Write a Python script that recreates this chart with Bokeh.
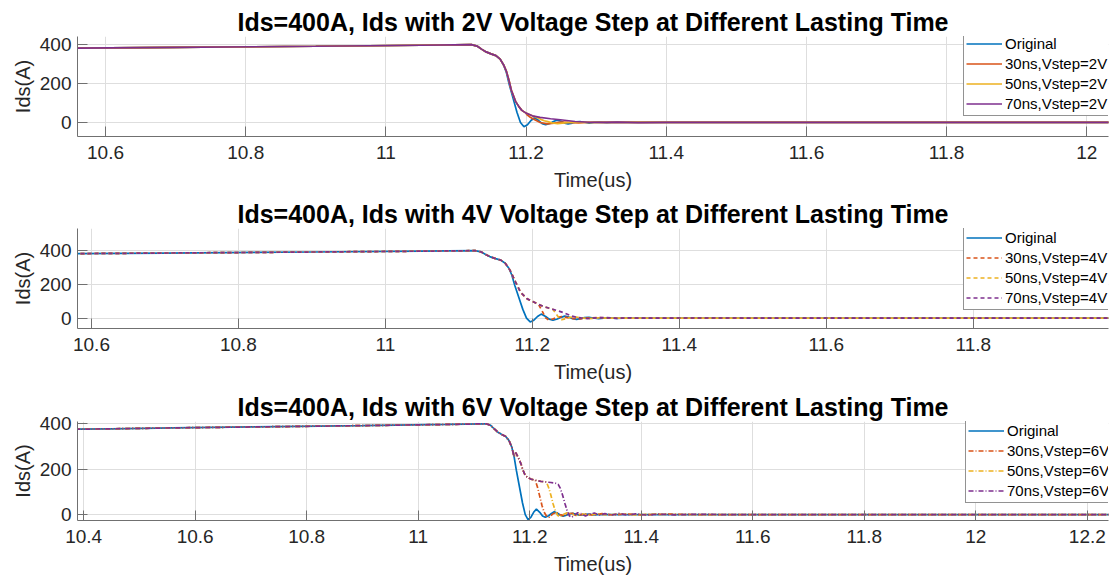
from bokeh.plotting import figure
from bokeh.layouts import column
from bokeh.models import (Legend, LegendItem, FixedTicker, CustomJSTickFormatter,
                          Range1d)
from bokeh.embed import file_html
from bokeh.resources import INLINE

# ---------------- data ----------------
# Original Ids waveform (shared by all three panels)
t_orig = [10.385, 10.45, 10.56, 10.7, 10.9, 11.05, 11.122, 11.13, 11.137, 11.143,
          11.15, 11.157, 11.163, 11.168, 11.172, 11.176, 11.181, 11.187, 11.192,
          11.197, 11.202, 11.207, 11.212, 11.218, 11.223, 11.228, 11.234, 11.239,
          11.244, 11.25, 11.255, 11.26, 11.266, 11.271, 11.277, 11.283, 11.29,
          11.297, 11.305, 11.315, 11.33, 11.35, 12.3]
ids_orig = [375, 377, 381, 385, 391, 396, 399, 392, 375, 362,
            352, 343, 325, 295, 255, 195, 130, 52, 0,
            -22, -12, 10, 24, 10, -6, -12, -5, 5,
            12, 6, -3, -7, -3, 3, 5, 1, -3,
            0, 2, -1, 1, 0, 0]

# 2V step: 70ns path (30ns / 50ns leave it earlier)
t_2v_70 = [11.172, 11.176, 11.179, 11.185, 11.19, 11.194, 11.2, 11.209, 11.22,
           11.235, 11.249, 11.27, 11.29, 11.31, 11.33, 11.36, 11.4, 12.3]
ids_2v_70 = [262, 210, 165, 108, 80, 62, 48, 34, 26,
             19, 14, 5, 1, 0, 2, -1, 0, 0]
t_2v_30 = [11.201, 11.206, 11.211, 11.216, 11.22, 11.23, 11.24, 11.25, 11.26,
           11.275, 11.29, 11.31, 12.3]
ids_2v_30 = [40, 27, 17, 7, 0, -7, -3, 2, 0, -2, 1, 0, 0]
t_2v_50 = [11.212, 11.216, 11.221, 11.226, 11.231, 11.237, 11.245, 11.255,
           11.265, 11.28, 11.3, 12.3]
ids_2v_50 = [30, 24, 16, 9, 4, -2, -6, -2, 2, 0, 1, 0]

# 4V step
t_4v_70 = [11.17, 11.177, 11.184, 11.193, 11.2, 11.208, 11.216, 11.225, 11.234,
           11.243, 11.252, 11.259, 11.266, 11.275, 11.285, 11.3, 11.315, 11.33,
           11.35, 11.4, 12.3]
ids_4v_70 = [280, 215, 153, 114, 100, 82, 68, 56, 45,
             32, 15, 6, 2, -3, 2, 4, -1, 2,
             0, 1, 0]
t_4v_30 = [11.209, 11.213, 11.218, 11.222, 11.227, 11.233, 11.24, 11.248,
           11.256, 11.265, 11.275, 11.29, 11.31, 12.3]
ids_4v_30 = [76, 45, 2, -10, -6, 4, 9, 3, -3, -4, 2, 3, 0, 0]
t_4v_50 = [11.228, 11.232, 11.236, 11.24, 11.245, 11.251, 11.258, 11.266,
           11.275, 11.29, 11.31, 12.3]
ids_4v_50 = [52, 28, 3, -9, -4, 5, 8, 2, -3, 2, 0, 0]

# 6V step
t_6v_70 = [11.175, 11.18, 11.184, 11.188, 11.192, 11.197, 11.202, 11.21, 11.22,
           11.23, 11.238, 11.246, 11.251, 11.255, 11.259, 11.263, 11.267, 11.271,
           11.275, 11.28, 11.286, 11.293, 11.3, 11.308, 11.316, 11.325, 11.335,
           11.345, 11.36, 11.375, 11.39, 11.41, 11.43, 11.46, 11.5, 11.55, 12.3]
ids_6v_70 = [272, 248, 225, 195, 172, 162, 156, 151, 146,
             143, 141, 138, 133, 115, 85, 50, 18, -5,
             -12, -4, 8, 3, -6, 2, 7, -2, 4,
             -3, 5, -2, 3, -2, 2, -1, 1, 0, 0]
t_6v_30 = [11.214, 11.218, 11.222, 11.226, 11.23, 11.235, 11.241, 11.247, 11.254,
           11.262, 11.27, 11.28, 11.29, 11.3, 11.315, 11.33, 11.35, 11.37, 11.4,
           11.45, 11.5, 12.3]
ids_6v_30 = [120, 80, 40, 10, -6, -12, 2, 10, 0,
             -5, 4, 6, -2, 3, -3, 4, -2, 3, -1,
             2, 0, 0]
t_6v_50 = [11.234, 11.238, 11.242, 11.246, 11.25, 11.254, 11.26, 11.267, 11.275,
           11.283, 11.293, 11.305, 11.32, 11.34, 11.36, 11.39, 11.42, 11.46, 12.3]
ids_6v_50 = [118, 85, 47, 15, -3, -10, 0, 8, 2,
             -4, 4, -2, 3, -2, 3, -1, 2, 0, 0]

titles = ["Ids=400A, Ids with 2V Voltage Step at Different Lasting Time",
          "Ids=400A, Ids with 4V Voltage Step at Different Lasting Time",
          "Ids=400A, Ids with 6V Voltage Step at Different Lasting Time"]
labels_2v = ["Original", "30ns,Vstep=2V", "50ns,Vstep=2V", "70ns,Vstep=2V"]
labels_4v = ["Original", "30ns,Vstep=4V", "50ns,Vstep=4V", "70ns,Vstep=4V"]
labels_6v = ["Original", "30ns,Vstep=6V", "50ns,Vstep=6V", "70ns,Vstep=6V"]
xticks_a = [10.6, 10.8, 11.0, 11.2, 11.4, 11.6, 11.8, 12.0]
xticks_b = [10.4, 10.6, 10.8, 11.0, 11.2, 11.4, 11.6, 11.8, 12.0, 12.2]
yticks = [0, 200, 400]

# ---------------- helpers ----------------
def join(th, yh, tt, yt):
    t = [a for a in th if a < tt[0]]
    y = [b for a, b in zip(th, yh) if a < tt[0]]
    return t + list(tt), y + list(yt)

COLORS = ["#0072BD", "#D95319", "#EDB120", "#7E2F8E"]
FONT = "Liberation Sans"


def panel(title, xr, yr, xticks, height, top, bottom, curves, dash, labels, leg_loc):
    p = figure(width=1109, height=height, output_backend="svg", toolbar_location=None,
               x_range=Range1d(*xr), y_range=Range1d(*yr),
               min_border_left=77, min_border_right=1,
               min_border_top=top, min_border_bottom=bottom)
    p.title.text = title
    p.title.align = "center"
    p.title.text_font = FONT
    p.title.text_font_size = "25px"
    p.title.text_font_style = "bold"
    p.title.text_color = "black"
    p.title.standoff = 2
    p.outline_line_color = None
    p.background_fill_color = "white"

    p.xaxis.ticker = FixedTicker(ticks=xticks)
    p.xaxis.formatter = CustomJSTickFormatter(
        code="return String(Math.round(tick*10)/10);")
    p.yaxis.ticker = FixedTicker(ticks=yticks)
    p.xaxis.axis_label = "Time(us)"
    p.yaxis.axis_label = "Ids(A)"
    for ax in (p.xaxis[0], p.yaxis[0]):
        ax.major_tick_in = 10
        ax.major_tick_out = 0
        ax.minor_tick_line_color = None
        ax.axis_line_color = "#707070"
        ax.major_tick_line_color = "#707070"
        ax.major_label_text_font = FONT
        ax.major_label_text_font_size = "19px"
        ax.major_label_text_color = "#262626"
        ax.axis_label_text_font = FONT
        ax.axis_label_text_font_size = "20px"
        ax.axis_label_text_font_style = "normal"
        ax.axis_label_text_color = "#262626"
    p.xaxis.major_label_standoff = 9
    p.xaxis.axis_label_standoff = 7
    p.yaxis.major_label_standoff = 6
    p.yaxis.axis_label_standoff = 3
    p.grid.grid_line_color = "#dedede"

    items = []
    for i, ((t, y), lab) in enumerate(zip(curves, labels)):
        kw = {}
        if i > 0 and dash is not None:
            kw["line_dash"] = dash
        r = p.line(t, y, line_color=COLORS[i], line_width=1.7, **kw)
        items.append(LegendItem(label=lab, renderers=[r]))
    leg = Legend(items=items, location=leg_loc,
                 border_line_color="#262626", border_line_width=1,
                 background_fill_color="white", background_fill_alpha=1,
                 label_text_font=FONT, label_text_font_size="15px",
                 label_text_color="black", label_height=19, glyph_height=19,
                 glyph_width=36, spacing=1, padding=2, margin=0,
                 label_standoff=3)
    p.add_layout(leg)
    return p


orig = (t_orig, ids_orig)
c2_70 = join(t_orig, ids_orig, t_2v_70, ids_2v_70)
c2_30 = join(*c2_70, t_2v_30, ids_2v_30)
c2_50 = join(*c2_70, t_2v_50, ids_2v_50)

c4_70 = join(t_orig, ids_orig, t_4v_70, ids_4v_70)
c4_30 = join(*c4_70, t_4v_30, ids_4v_30)
c4_50 = join(*c4_70, t_4v_50, ids_4v_50)

c6_70 = join(t_orig, ids_orig, t_6v_70, ids_6v_70)
c6_30 = join(*c6_70, t_6v_30, ids_6v_30)
c6_50 = join(*c6_70, t_6v_50, ids_6v_50)

p1 = panel(titles[0], (10.560, 12.031), (-72, 441), xticks_a, 194, 36, 58,
           [orig, c2_30, c2_50, c2_70], None, labels_2v, (886, 20))
p2 = panel(titles[1], (10.581, 11.984), (-61, 530), xticks_a, 194, 34, 60,
           [orig, c4_30, c4_50, c4_70], "4 3", labels_4v, (886, 18))
p3 = panel(titles[2], (10.389, 12.238), (-26, 409), xticks_b, 195, 33, 63,
           [orig, c6_30, c6_50, c6_70], "5 2 1 2", labels_6v, (888, 17))

layout = column(p1, p2, p3, spacing=0)
open("out.html", "w").write(file_html(layout, INLINE))
